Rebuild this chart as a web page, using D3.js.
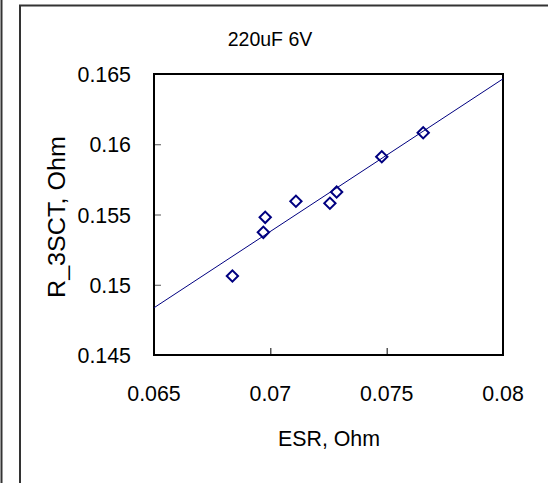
<!DOCTYPE html>
<html>
<head>
<meta charset="utf-8">
<script src="https://d3js.org/d3.v7.min.js"></script>
<style>
  body { margin: 0; background: #fff; }
  text { font-family: "Liberation Sans", Arial, sans-serif; fill: #000; }
</style>
</head>
<body>
<div id="chart"></div>
<script>
// values
const esr = [0.06837, 0.06978, 0.06970, 0.07110, 0.07256, 0.07285, 0.07479, 0.07657];
const r3sct = [0.15062, 0.15480, 0.15373, 0.15594, 0.15580, 0.15660, 0.15911, 0.16082];
const xTicks = [0.065, 0.07, 0.075, 0.08];
const yTicks = [0.145, 0.15, 0.155, 0.16, 0.165];
const titleText = "220uF 6V";
const xTitle = "ESR, Ohm";
const yTitle = "R_3SCT, Ohm";

const W = 548, H = 483;
const plot = {left: 154, top: 74, right: 503, bottom: 355};
const squeeze = 0.93; // text in the original is a bit narrow

const svg = d3.select("#chart").append("svg")
    .attr("width", W)
    .attr("height", H);

// outer frames
svg.append("line")
    .attr("x1", 1.5).attr("x2", 1.5).attr("y1", 0).attr("y2", H)
    .attr("stroke", "#333").attr("stroke-width", 2);
svg.append("path")
    .attr("d", "M20," + H + "V5.5H" + W)
    .attr("fill", "none").attr("stroke", "#333").attr("stroke-width", 2);

const x = d3.scaleLinear().domain([0.065, 0.08]).range([plot.left, plot.right]);
const y = d3.scaleLinear().domain([0.145, 0.165]).range([plot.bottom, plot.top]);

// ticks pointing inwards, labels drawn separately
svg.append("g")
    .attr("transform", "translate(0," + plot.bottom + ")")
    .call(d3.axisTop(x).tickValues(xTicks).tickSize(7).tickFormat(""))
    .call(g => g.select(".domain").remove())
    .selectAll("line").attr("stroke", "#000");
svg.append("g")
    .attr("transform", "translate(" + plot.left + ",0)")
    .call(d3.axisRight(y).tickValues(yTicks).tickSize(7).tickFormat(""))
    .call(g => g.select(".domain").remove())
    .selectAll("line").attr("stroke", "#555");

svg.selectAll(".xlab")
    .data(xTicks)
    .enter()
    .append("text")
    .attr("class", "xlab")
    .attr("transform", d => "translate(" + x(d) + ",401) scale(" + squeeze + ",1)")
    .attr("text-anchor", "middle")
    .style("font-size", "23px")
    .text(d => d3.format("")(d));

svg.selectAll(".ylab")
    .data(yTicks)
    .enter()
    .append("text")
    .attr("class", "ylab")
    .attr("transform", d => "translate(131," + (y(d) + 8) + ") scale(" + squeeze + ",1)")
    .attr("text-anchor", "end")
    .style("font-size", "23px")
    .text(d => d3.format("")(d));

// plot border
svg.append("rect")
    .attr("x", plot.left).attr("y", plot.top)
    .attr("width", plot.right - plot.left).attr("height", plot.bottom - plot.top)
    .attr("fill", "none").attr("stroke", "#000").attr("stroke-width", 2);

// linear trendline (least squares)
const mx = d3.mean(esr), my = d3.mean(r3sct);
let sxy = 0, sxx = 0;
esr.forEach((v, i) => {
    sxy += (v - mx) * (r3sct[i] - my);
    sxx += (v - mx) * (v - mx);
});
const slope = sxy / sxx;
const trend = x.domain().map(v => [v, my + slope * (v - mx)]);
svg.append("path")
    .datum(trend)
    .attr("d", d3.line().x(d => x(d[0])).y(d => y(d[1])))
    .attr("fill", "none")
    .attr("stroke", "#000080")
    .attr("stroke-width", 1);

// diamonds
const diamond = d3.symbol().type(d3.symbolSquare).size(64);
svg.selectAll(".pt")
    .data(esr)
    .enter()
    .append("path")
    .attr("class", "pt")
    .attr("d", diamond)
    .attr("transform", (d, i) => "translate(" + x(d) + "," + y(r3sct[i]) + ") rotate(45)")
    .attr("fill", "none")
    .attr("stroke", "#000080")
    .attr("stroke-width", 2);

// titles
svg.append("text")
    .attr("transform", "translate(270,46) scale(" + squeeze + ",1)")
    .attr("text-anchor", "middle")
    .style("font-size", "21px")
    .text(titleText);
svg.append("text")
    .attr("transform", "translate(329,446) scale(" + squeeze + ",1)")
    .attr("text-anchor", "middle")
    .style("font-size", "23px")
    .text(xTitle);
svg.append("text")
    .attr("transform", "translate(65,217) rotate(-90)")
    .attr("text-anchor", "middle")
    .attr("textLength", 162)
    .attr("lengthAdjust", "spacingAndGlyphs")
    .style("font-size", "23px")
    .text(yTitle);
</script>
</body>
</html>
